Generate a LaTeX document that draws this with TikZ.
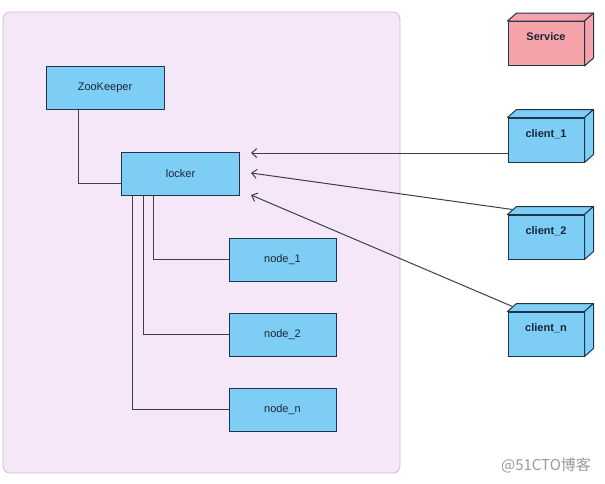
\documentclass[tikz,border=0pt]{standalone}
\usepackage{fontspec}
\setmainfont{Liberation Sans}
\newfontfamily\cjkfont{Noto Sans CJK SC}
\usepackage{xcolor}
\usetikzlibrary{calc,arrows.meta}

\definecolor{boxblue}{HTML}{7DCDF4}
\definecolor{boxline}{HTML}{1E3550}
\definecolor{boxtext}{HTML}{1A2638}
\definecolor{svcpink}{HTML}{F5A3A8}
\definecolor{areafill}{HTML}{F5E7F8}
\definecolor{arealine}{HTML}{D8B6E0}
\definecolor{linegray}{HTML}{3C3E4C}

\begin{document}
\begin{tikzpicture}[
        x=1pt, y=-1pt,
        font=\fontsize{11}{13}\selectfont,
        box/.style = {draw=boxline, fill=boxblue, line width=1pt, rectangle, inner sep=0pt,
                      minimum width=118pt, minimum height=43pt, text=boxtext},
        nodebox/.style = {box, minimum width=107pt},
        cubebox/.style = {box, minimum width=76pt, minimum height=44pt, font=\fontsize{11}{13}\selectfont\bfseries,
                          text height=8pt, text depth=14pt},
        link/.style = {draw=linegray, line width=1pt},
        arrow/.style = {{Straight Barb[length=5pt, width=9pt]}-, draw=linegray, line width=1pt}
    ]
    \useasboundingbox (0,0) rectangle (605,483);

    % lock area in the background
    \draw[fill=areafill, draw=arealine, line width=0.8pt, rounded corners=7pt] (3,12) rectangle (400,473);

    % ZooKeeper and the locker
    \node[box] (zk) at (105,87.5) {ZooKeeper};
    \node[box] (lk) at (180.5,173.5) {locker};

    % nodes below the locker
    \node[nodebox] (n1) at (282.5,259.5) {node\_1};
    \node[nodebox] (n2) at (282.5,334.5) {node\_2};
    \node[nodebox] (nn) at (282.5,409.5) {node\_n};

    % service and clients on the right
    \node[cubebox, fill=svcpink] (svc) at (546,43.5) {Service};
    \node[cubebox] (c1) at (546,140) {client\_1};
    \node[cubebox] (c2) at (546,237) {client\_2};
    \node[cubebox] (cn) at (546,334) {client\_n};

    % depth of the boxes
    \foreach \c/\col in {svc/svcpink, c1/boxblue, c2/boxblue, cn/boxblue} {
        \draw[draw=boxline, fill=\col, line width=1pt, line join=round]
            (\c.north west) -- ++(9,-8) -- ($(\c.north east)+(9,-8)$) -- (\c.north east) -- cycle;
        \draw[draw=boxline, fill=\col, line width=1pt, line join=round]
            (\c.north east) -- ++(9,-8) -- ($(\c.south east)+(9,-8)$) -- (\c.south east) -- cycle;
    }

    % tree lines
    \draw[link] ([xshift=33pt]zk.south west) |- ([yshift=-9.5pt]lk.west);
    \draw[link] ([xshift=32pt]lk.south west) |- (n1.west);
    \draw[link] ([xshift=22pt]lk.south west) |- (n2.west);
    \draw[link] ([xshift=11.5pt]lk.south west) |- (nn.west);

    % arrows from the clients
    \coordinate (tip1) at (251,153);
    \coordinate (tip2) at (251,173);
    \coordinate (tip3) at (251,195);
    \draw[arrow] (tip1) -- ([yshift=-13pt]c1.west);
    \draw[arrow] (tip2) -- ($(c2.north west)+(5,-5)$);
    \draw[arrow] (tip3) -- ($(cn.north west)+(5,-5)$);

    % watermark
    \node[text=gray!80, font=\fontsize{15}{17}\cjkfont] (wm) at (546,465) {@51CTO博客};

\end{tikzpicture}
\end{document}
